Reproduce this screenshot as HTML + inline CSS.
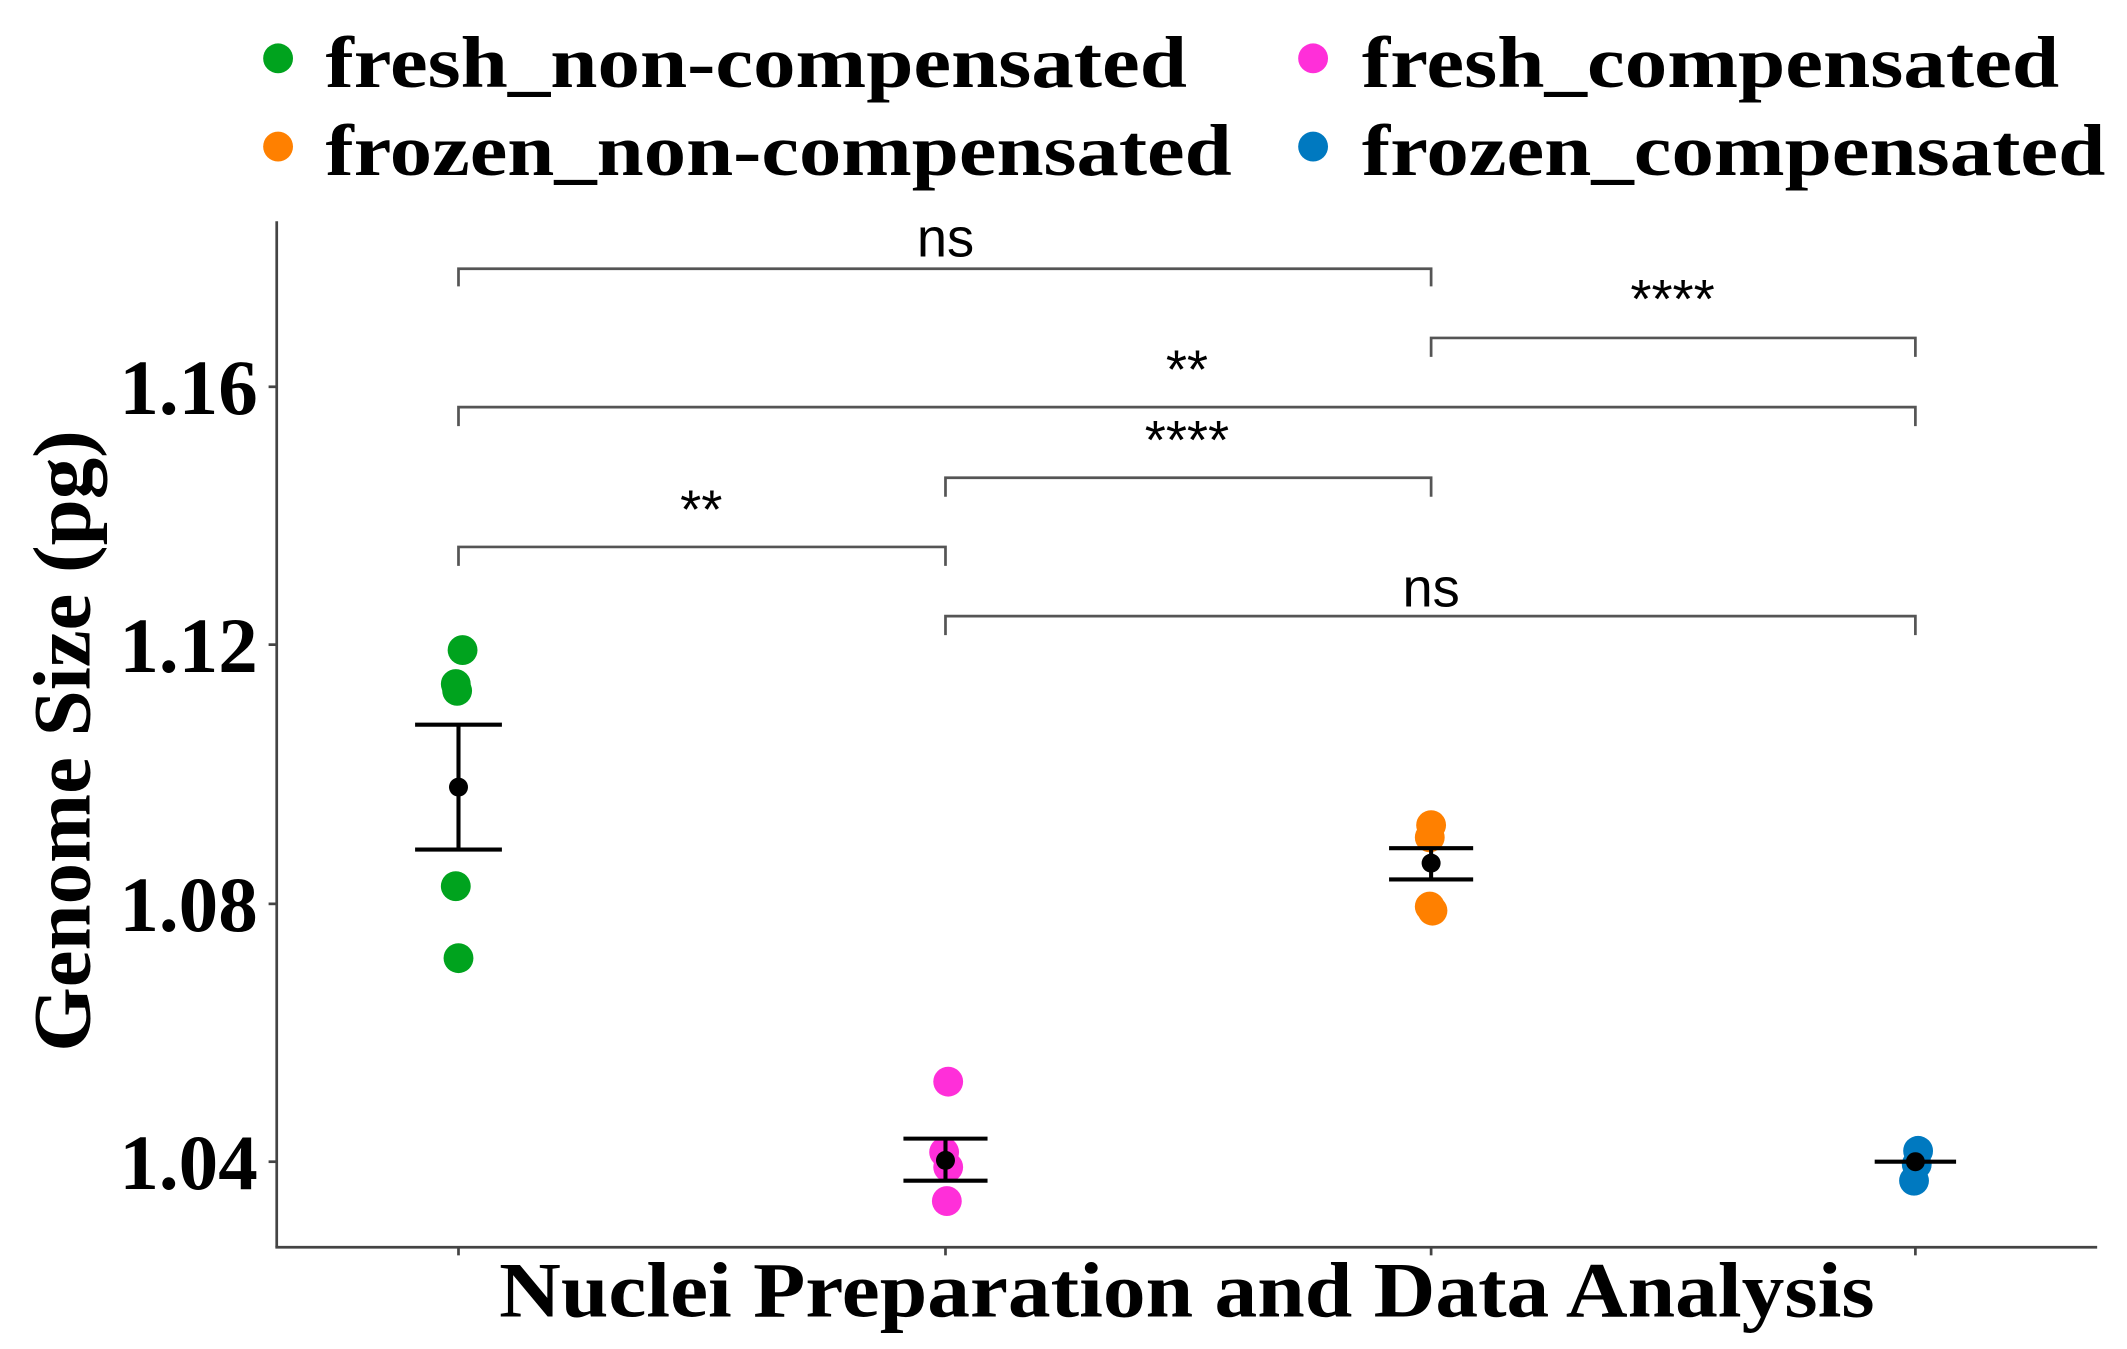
<!DOCTYPE html>
<html><head><meta charset="utf-8"><style>
html,body{margin:0;padding:0;background:#fff;}
svg{display:block;}
.tk{font-family:"Liberation Serif",serif;font-weight:bold;font-size:58px;fill:#000;}
.lg{font-family:"Liberation Serif",serif;font-weight:bold;font-size:54px;fill:#000;}
.sig{font-family:"Liberation Sans",sans-serif;font-size:40px;fill:#000;}
</style></head><body>
<svg width="2127" height="1349" viewBox="0 0 1568 994" preserveAspectRatio="none" xmlns="http://www.w3.org/2000/svg">
<rect width="1568" height="994" fill="#fff"/>
<circle cx="205" cy="43" r="11" fill="#00a31e"/>
<text x="240" y="64" class="lg" textLength="635" lengthAdjust="spacingAndGlyphs">fresh_non-compensated</text>
<circle cx="968" cy="43" r="11" fill="#ff2fd9"/>
<text x="1004" y="64" class="lg" textLength="514" lengthAdjust="spacingAndGlyphs">fresh_compensated</text>
<circle cx="205" cy="108" r="11" fill="#ff8000"/>
<text x="240" y="129" class="lg" textLength="668" lengthAdjust="spacingAndGlyphs">frozen_non-compensated</text>
<circle cx="968" cy="108" r="11" fill="#0079c0"/>
<text x="1004" y="129" class="lg" textLength="548" lengthAdjust="spacingAndGlyphs">frozen_compensated</text>
<g stroke="#444" stroke-width="2" fill="none">
<line x1="204" y1="163" x2="204" y2="919"/>
<line x1="203" y1="919" x2="1546" y2="919"/>
<line x1="198" y1="285" x2="204" y2="285"/>
<line x1="198" y1="475" x2="204" y2="475"/>
<line x1="198" y1="666" x2="204" y2="666"/>
<line x1="198" y1="856" x2="204" y2="856"/>
<line x1="338" y1="919" x2="338" y2="925"/>
<line x1="697" y1="919" x2="697" y2="925"/>
<line x1="1055" y1="919" x2="1055" y2="925"/>
<line x1="1412" y1="919" x2="1412" y2="925"/>
</g>
<g class="tk">
<text x="88" y="305" textLength="102" lengthAdjust="spacingAndGlyphs">1.16</text>
<text x="88" y="495" textLength="102" lengthAdjust="spacingAndGlyphs">1.12</text>
<text x="88" y="686" textLength="102" lengthAdjust="spacingAndGlyphs">1.08</text>
<text x="88" y="876" textLength="102" lengthAdjust="spacingAndGlyphs">1.04</text>
</g>
<text transform="translate(66,775) rotate(-90)" textLength="458" lengthAdjust="spacingAndGlyphs" style="font-family:'Liberation Serif',serif;font-weight:bold;font-size:60px">Genome Size (pg)</text>
<text x="368" y="970" textLength="1014" lengthAdjust="spacingAndGlyphs" style="font-family:'Liberation Serif',serif;font-weight:bold;font-size:58px">Nuclei Preparation and Data Analysis</text>
<g stroke="#555" stroke-width="2" fill="none">
<polyline points="338,211 338,198 1055,198 1055,211"/>
<polyline points="1055,263 1055,249 1412,249 1412,263"/>
<polyline points="338,314 338,300 1412,300 1412,314"/>
<polyline points="697,366 697,352 1055,352 1055,366"/>
<polyline points="338,417 338,403 697,403 697,417"/>
<polyline points="697,468 697,454 1412,454 1412,468"/>
</g>
<g class="sig" text-anchor="middle">
<text x="697" y="189">ns</text>
<text x="1233" y="234">****</text>
<text x="875" y="286">**</text>
<text x="875" y="338">****</text>
<text x="517" y="389">**</text>
<text x="1055" y="447">ns</text>
</g>
<g fill="#00a31e">
<circle cx="341" cy="479" r="11"/><circle cx="337" cy="509" r="11"/><circle cx="336" cy="504" r="11"/>
<circle cx="336" cy="653" r="11"/><circle cx="338" cy="706" r="11"/>
</g>
<g fill="#ff2fd9">
<circle cx="699" cy="797" r="11"/><circle cx="696" cy="849" r="11"/><circle cx="699" cy="860" r="11"/><circle cx="698" cy="885" r="11"/>
</g>
<g fill="#ff8000">
<circle cx="1055" cy="608" r="11"/><circle cx="1054" cy="617" r="11"/><circle cx="1054" cy="668" r="11"/><circle cx="1056" cy="671" r="11"/>
</g>
<g fill="#0079c0">
<circle cx="1414" cy="848" r="11"/><circle cx="1411" cy="870" r="11"/><circle cx="1413" cy="858" r="11"/>
</g>
<g stroke="#000" stroke-width="3">
<line x1="306" y1="534" x2="370" y2="534"/><line x1="306" y1="626" x2="370" y2="626"/><line x1="338" y1="534" x2="338" y2="626"/>
<line x1="666" y1="839" x2="728" y2="839"/><line x1="666" y1="870" x2="728" y2="870"/><line x1="697" y1="839" x2="697" y2="870"/>
<line x1="1024" y1="625" x2="1086" y2="625"/><line x1="1024" y1="648" x2="1086" y2="648"/><line x1="1055" y1="625" x2="1055" y2="648"/>
<line x1="1382" y1="856" x2="1442" y2="856"/>
</g>
<g fill="#000">
<circle cx="338" cy="580" r="7"/><circle cx="697" cy="855" r="7"/><circle cx="1055" cy="636" r="7"/><circle cx="1412" cy="856" r="7"/>
</g>
</svg>
</body></html>
